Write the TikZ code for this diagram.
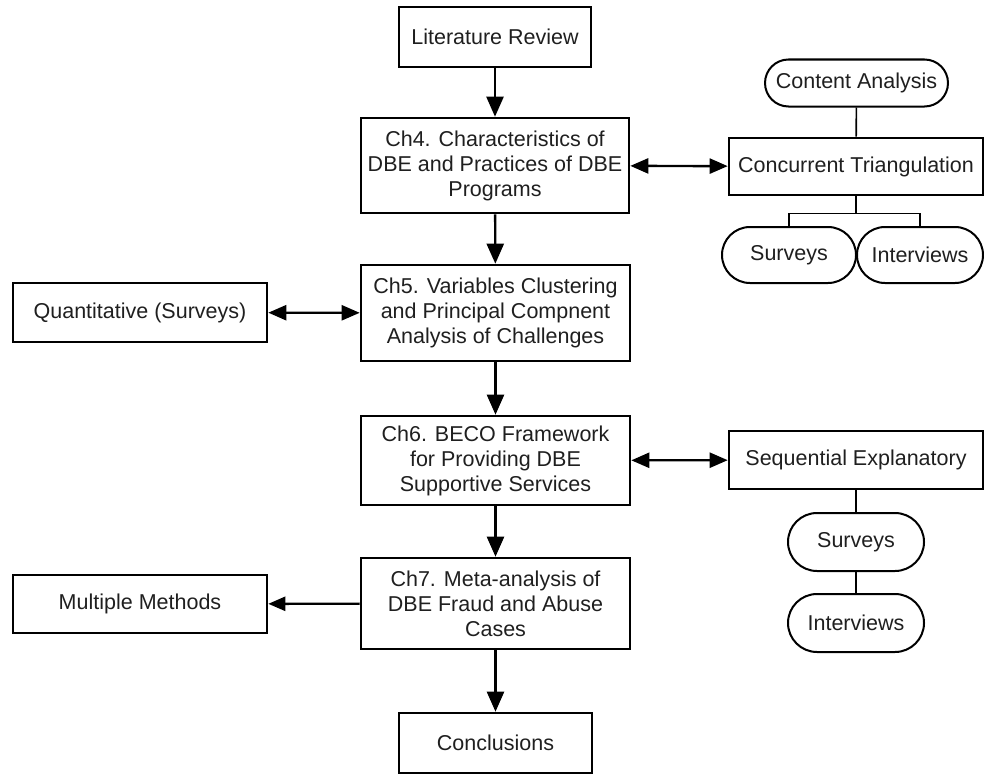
\documentclass[tikz,border=0pt]{standalone}
\usepackage{fontspec}
\setmainfont{Liberation Sans}
\usetikzlibrary{arrows.meta,shapes.misc}
\begin{document}
\begin{tikzpicture}[x=1pt,y=-1pt,
  every node/.style={font=\fontsize{21.5}{25}\selectfont, text=black!88, inner sep=0pt, align=center},
  box/.style={draw, rectangle, line width=2.6pt},
  pill/.style={draw, rounded rectangle, line width=2pt},
  flow/.style={line width=2.4pt, -{Triangle[length=20pt,width=17pt]}},
  side/.style={line width=2.4pt, -{Triangle[length=17pt,width=14pt]}},
  both/.style={line width=2.4pt, {Triangle[length=18pt,width=15pt]}-{Triangle[length=18pt,width=15pt]}},
  thin/.style={line width=1.6pt}
]
\useasboundingbox (0,0) rectangle (984,776);
% main column
\node[box, minimum width=192pt, minimum height=60pt] (lit) at (495,37) {Literature Review};
\node[box, minimum width=268pt, minimum height=95pt] (ch4) at (495,165.5) {Ch4. Characteristics of\\DBE and Practices of DBE\\Programs};
\node[box, minimum width=269pt, minimum height=96pt] (ch5) at (495.5,313) {Ch5. Variables Clustering\\and Principal Compnent\\Analysis of Challenges};
\node[box, minimum width=269pt, minimum height=89pt] (ch6) at (495.5,460.5) {Ch6. BECO Framework\\for Providing DBE\\Supportive Services};
\node[box, minimum width=269pt, minimum height=91pt] (ch7) at (495.5,603.5) {Ch7. Meta-analysis of\\DBE Fraud and Abuse\\Cases};
\node[box, minimum width=193pt, minimum height=60pt] (concl) at (495.5,743) {Conclusions};
% left
\node[box, minimum width=254pt, minimum height=59pt] (quant) at (140,312.5) {Quantitative (Surveys)};
\node[box, minimum width=254pt, minimum height=58pt] (multi) at (140,604) {Multiple Methods};
% right top
\node[pill, minimum width=183pt, minimum height=47pt] (content) at (856.5,83) {Content Analysis};
\node[box, minimum width=254pt, minimum height=57pt] (conc) at (856,166.5) {Concurrent Triangulation};
\node[pill, minimum width=134pt, minimum height=56pt] (sv1) at (789,255) {Surveys};
\node[pill, minimum width=126pt, minimum height=56pt] (iv1) at (920,255) {Interviews};
% right bottom
\node[box, minimum width=254pt, minimum height=58pt] (seq) at (856,460) {Sequential Explanatory};
\node[pill, minimum width=136pt, minimum height=58pt] (sv2) at (856,542) {Surveys};
\node[pill, minimum width=136pt, minimum height=58pt] (iv2) at (856,623) {Interviews};
% flow arrows
\draw[flow] (lit) -- (ch4);
\draw[flow] (ch4) -- (ch5);
\draw[flow] (ch5) -- (ch6);
\draw[flow] (ch6) -- (ch7);
\draw[flow] (ch7) -- (concl);
\draw[side] (ch7) -- (multi);
\draw[both] (ch4) -- (conc);
\draw[both] (quant) -- (ch5);
\draw[both] (ch6) -- (seq);
% right connectors
\draw[thin] (content) -- (conc);
\draw[thin] (conc.south) -- ++(0,17) coordinate (bj);
\draw[thin] (sv1.north) |- (bj) -| (iv1.north);
\draw[thin] (seq) -- (sv2);
\draw[thin] (sv2) -- (iv2);
\end{tikzpicture}
\end{document}
